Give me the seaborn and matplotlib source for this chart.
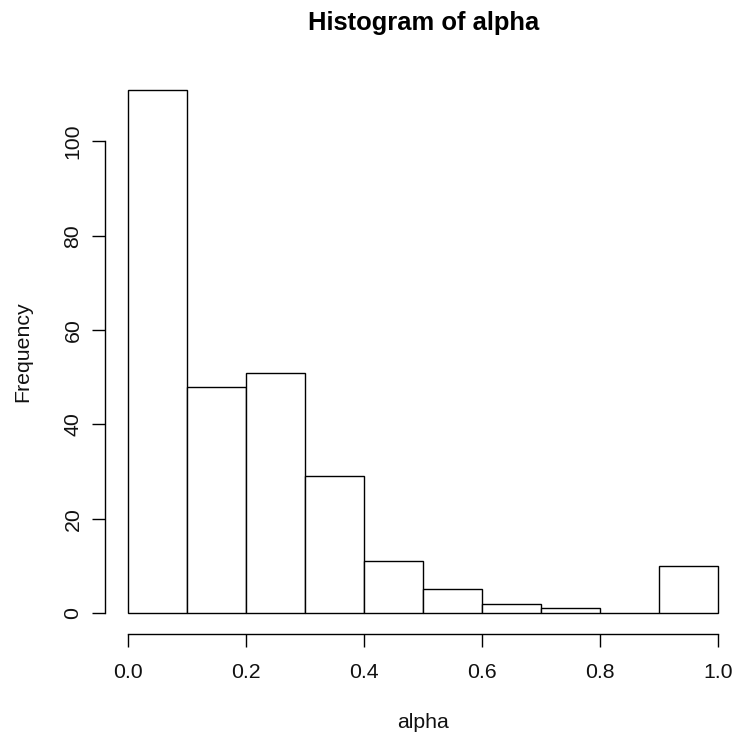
import numpy as np
import matplotlib
matplotlib.use("Agg")
import matplotlib.pyplot as plt
import seaborn as sns

# histogram of alpha, counts per 0.1-wide bin
bin_edges = [0.0, 0.1, 0.2, 0.3, 0.4, 0.5, 0.6, 0.7, 0.8, 0.9, 1.0]
counts = [111, 48, 51, 29, 11, 5, 2, 1, 0, 10]
x_ticks = [0.0, 0.2, 0.4, 0.6, 0.8, 1.0]
x_ticklabels = ["0.0", "0.2", "0.4", "0.6", "0.8", "1.0"]
y_ticks = [0, 20, 40, 60, 80, 100]

sns.set_theme(style="white")
plt.rcParams["font.family"] = ["Liberation Sans", "DejaVu Sans"]

W, H = 738, 740
fig = plt.figure(figsize=(W / 100, H / 100), dpi=100)
# R-like plot region (right edge runs just past the figure)
left, right, top, bottom = 104.5, 742.0, 68.6, 634.0
ax = fig.add_axes([left / W, 1 - bottom / H, (right - left) / W, (bottom - top) / H])

edges = np.asarray(bin_edges)
mids = (edges[:-1] + edges[1:]) / 2
sns.histplot(x=mids, weights=counts, bins=bin_edges, ax=ax,
             color="white", edgecolor="black", linewidth=1.0, alpha=1)

ax.set_xlim(-0.04, 1.04)
ax.set_ylim(-0.04 * max(counts), 1.04 * max(counts))

for side in ("top", "right"):
    ax.spines[side].set_visible(False)
for side in ("left", "bottom"):
    ax.spines[side].set_color("black")
    ax.spines[side].set_linewidth(1.0)
ax.spines["left"].set_bounds(0, 100)
ax.spines["bottom"].set_bounds(0, 1)

ax.set_xticks(x_ticks)
ax.set_xticklabels(x_ticklabels)
ax.set_yticks(y_ticks)
ax.tick_params(axis="both", direction="out", length=9.4, width=1.0,
               color="black", labelsize=15.3, labelcolor="#111111")
ax.tick_params(axis="x", pad=11.5, bottom=True)
ax.tick_params(axis="y", pad=6.5, left=True)
for lab in ax.get_yticklabels():
    lab.set_rotation(90)
    lab.set_va("center")

ax.set_xlabel("alpha", fontsize=15.3, color="#111111")
ax.xaxis.label.set_va("baseline")
ax.xaxis.set_label_coords(0.5, -0.166)
ax.set_ylabel("Frequency", fontsize=15.3, color="#111111")
ax.yaxis.label.set_rotation_mode("anchor")
ax.yaxis.label.set_va("baseline")
ax.yaxis.set_label_coords(-0.12, 0.5)

ax.set_title("Histogram of alpha", fontsize=18.4, fontweight="bold",
             color="black", y=1.068, pad=0)
ax.grid(False)

fig.savefig("out.png", dpi=100)
